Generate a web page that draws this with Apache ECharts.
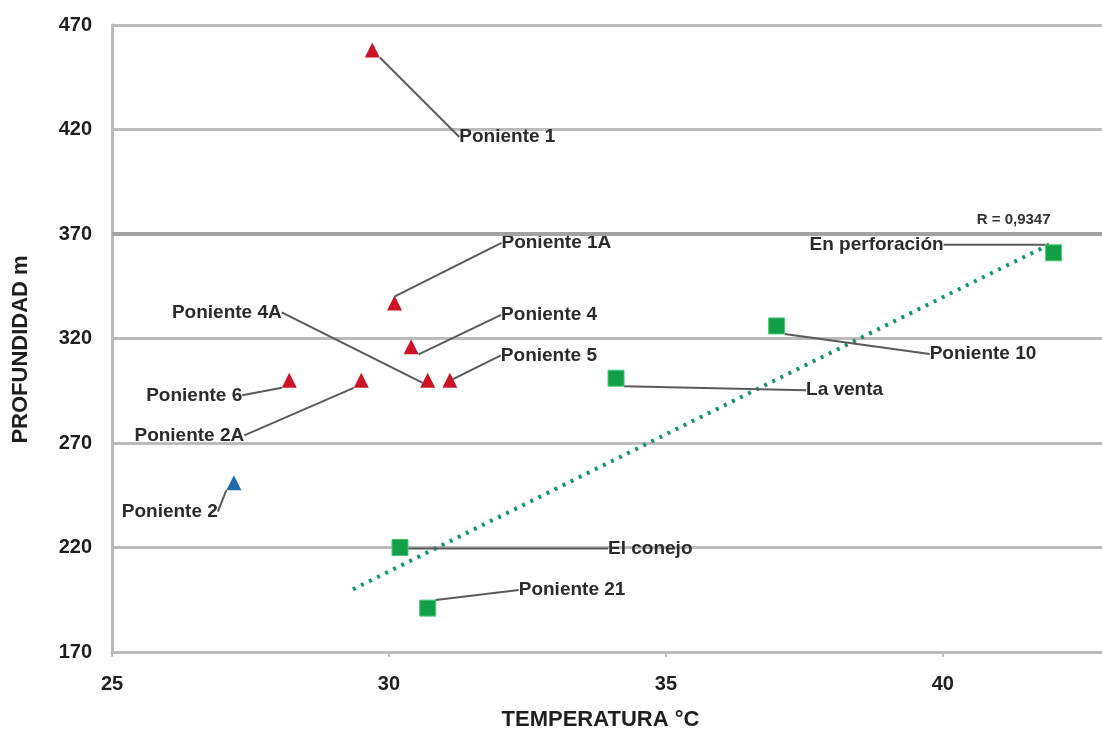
<!DOCTYPE html>
<html>
<head>
<meta charset="utf-8">
<script src="https://cdn.jsdelivr.net/npm/echarts@6/dist/echarts.min.js"></script>
<style>
  html, body { margin: 0; padding: 0; background: #fff; }
  #chart { width: 1102px; height: 730px; }
</style>
</head>
<body>
<div id="chart"></div>
<script>
// pozos con triangulo rojo
var redNames = ['Poniente 1', 'Poniente 1A', 'Poniente 4', 'Poniente 4A', 'Poniente 5', 'Poniente 6', 'Poniente 2A'];
var redTemp = [29.7, 30.1, 30.4, 30.7, 31.1, 28.2, 29.5];
var redDepth = [458, 337, 316, 300, 300, 300, 300];

// pozo con triangulo azul
var blueNames = ['Poniente 2'];
var blueTemp = [27.2];
var blueDepth = [251];

// pozos con cuadro verde
var greenNames = ['En perforación', 'Poniente 10', 'La venta', 'El conejo', 'Poniente 21'];
var greenTemp = [42.0, 37.0, 34.1, 30.2, 30.7];
var greenDepth = [361, 326, 301, 220, 191];

// linea de tendencia (extremos)
var trendTemp = [29.35, 42.0];
var trendDepth = [200, 366];
var trendLabel = 'R = 0,9347';

// ticks
var xTicks = [25, 30, 35, 40];
var yTicks = [170, 220, 270, 320, 370, 420, 470];

var FONT = 'Liberation Sans, Arial, sans-serif';

function pairs(xs, ys, names) {
    var arr = [];
    for (var i = 0; i < xs.length; i++) {
        arr.push({ name: names ? names[i] : '', value: [xs[i], ys[i]] });
    }
    return arr;
}

// desplazamiento de etiquetas (px) respecto al punto
var labelOffsets = {
    'Poniente 1': [87, 87, 'left'],
    'Poniente 1A': [107, -60, 'left'],
    'Poniente 4': [90, -32, 'left'],
    'Poniente 5': [51, -25, 'left'],
    'Poniente 4A': [-146, -68, 'right'],
    'Poniente 6': [-47, 15, 'right'],
    'Poniente 2A': [-117, 55, 'right'],
    'Poniente 2': [-16, 29, 'right'],
    'En perforación': [-110, -8, 'right'],
    'Poniente 10': [153, 28, 'left'],
    'La venta': [190, 12, 'left'],
    'El conejo': [208, 1, 'left'],
    'Poniente 21': [91, -18, 'left']
};

function layoutFn(names) {
    return function (params) {
        var o = labelOffsets[names[params.dataIndex]];
        return { dx: o[0], dy: o[1], align: o[2] };
    };
}

var labelStyle = {
    show: true,
    position: 'inside',
    formatter: '{b}',
    color: '#2b2b2b',
    fontFamily: FONT,
    fontWeight: 'bold',
    fontSize: 19
};
var lineStyleLbl = {
    show: true,
    lineStyle: { color: '#5a5a5a', width: 2 }
};

var chart = echarts.init(document.getElementById('chart'));
var option = {
    backgroundColor: '#fff',
    animation: false,
    grid: { left: 112, right: -7, top: 25, bottom: 78, containLabel: false, outerBoundsMode: 'none' },
    xAxis: {
        type: 'value',
        min: 25,
        max: 43,
        interval: 5,
        name: 'TEMPERATURA °C',
        nameLocation: 'middle',
        nameGap: 57,
        nameTextStyle: { color: '#1e1e1e', fontWeight: 'bold', fontSize: 22, fontFamily: FONT, padding: [0, 20, 0, 0] },
        axisLine: { lineStyle: { color: '#bbb', width: 3 } },
        axisTick: { show: true, length: 5, lineStyle: { color: '#bbb', width: 2 } },
        axisLabel: {
            color: '#1e1e1e', fontWeight: 'bold', fontSize: 20, margin: 22,
            fontFamily: FONT,
            formatter: function (v) { return xTicks.indexOf(v) >= 0 ? v : ''; }
        },
        splitLine: { show: false }
    },
    yAxis: {
        type: 'value',
        min: 170,
        max: 470,
        interval: 50,
        name: 'PROFUNDIDAD m',
        nameLocation: 'middle',
        nameGap: 80,
        nameRotate: 90,
        nameTextStyle: { color: '#1e1e1e', fontWeight: 'bold', fontSize: 22, fontFamily: FONT, padding: [0, 22, 0, 0] },
        axisLine: { show: true, lineStyle: { color: '#bbb', width: 3 } },
        axisTick: { show: false },
        axisLabel: {
            color: '#1e1e1e', fontWeight: 'bold', fontSize: 20, margin: 20,
            fontFamily: FONT,
            formatter: function (v) { return yTicks.indexOf(v) >= 0 ? v : ''; }
        },
        splitLine: { show: true, lineStyle: { color: '#bbb', width: 3 } }
    },
    series: [
        {
            name: 'tendencia',
            type: 'line',
            data: trendTemp.map(function (t, i) {
                var item = { value: [t, trendDepth[i]] };
                if (i === trendTemp.length - 1) {
                    item.label = {
                        show: true, position: 'top', offset: [-40, -10],
                        formatter: trendLabel, color: '#333', fontSize: 15,
                        fontWeight: 'bold', fontFamily: FONT
                    };
                }
                return item;
            }),
            showSymbol: true,
            symbol: 'circle',
            symbolSize: 1,
            itemStyle: { color: 'rgba(0,0,0,0)' },
            lineStyle: { color: '#169468', width: 4, type: [3, 6] },
            markLine: {
                silent: true,
                symbol: 'none',
                label: { show: false },
                lineStyle: { color: '#a3a3a3', width: 4, type: 'solid' },
                data: [{ yAxis: 370 }]
            },
            z: 3
        },
        {
            name: 'rojo',
            type: 'scatter',
            symbol: 'triangle',
            symbolSize: 15,
            itemStyle: { color: '#cc1426', opacity: 1 },
            data: pairs(redTemp, redDepth, redNames),
            label: labelStyle,
            labelLine: lineStyleLbl,
            labelLayout: layoutFn(redNames),
            z: 4
        },
        {
            name: 'azul',
            type: 'scatter',
            symbol: 'triangle',
            symbolSize: 15,
            itemStyle: { color: '#2468ac', opacity: 1 },
            data: pairs(blueTemp, blueDepth, blueNames),
            label: labelStyle,
            labelLine: lineStyleLbl,
            labelLayout: layoutFn(blueNames),
            z: 4
        },
        {
            name: 'verde',
            type: 'scatter',
            symbol: 'rect',
            symbolSize: 16,
            itemStyle: { color: '#12a047', borderColor: '#4cc77a', borderWidth: 1, opacity: 1 },
            data: pairs(greenTemp, greenDepth, greenNames),
            label: labelStyle,
            labelLine: lineStyleLbl,
            labelLayout: layoutFn(greenNames),
            z: 4
        }
    ]
};
chart.setOption(option);
</script>
</body>
</html>
